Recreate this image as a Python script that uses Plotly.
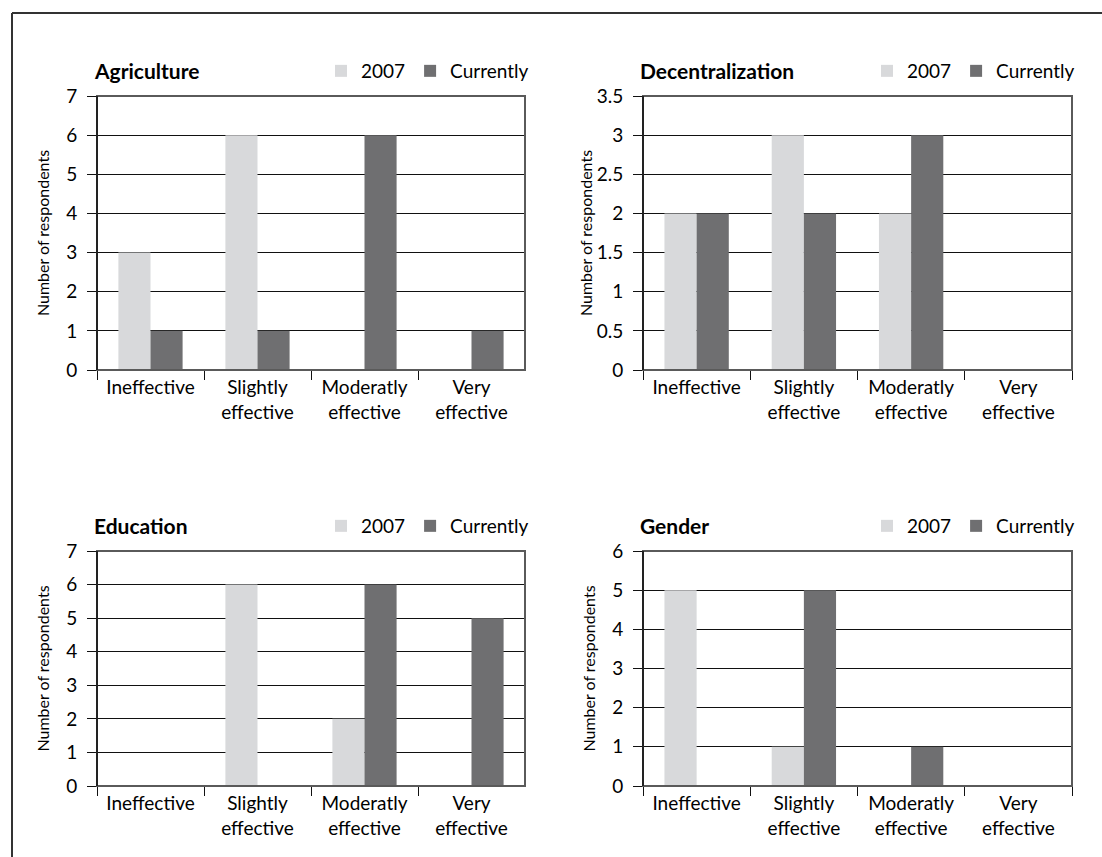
import plotly.graph_objects as go

# Survey categories and responses per policy area
categories = ["Ineffective", "Slightly<br>effective", "Moderatly<br>effective", "Very<br>effective"]
series_names = ["2007", "Currently"]

agriculture_2007 = [3, 6, 0, 0]
agriculture_now = [1, 1, 6, 1]
decentralization_2007 = [2, 3, 2, 0]
decentralization_now = [2, 2, 3, 0]
education_2007 = [0, 6, 2, 0]
education_now = [0, 0, 6, 5]
gender_2007 = [5, 1, 0, 0]
gender_now = [0, 5, 1, 0]

panel_titles = ["Agriculture", "Decentralization", "Education", "Gender"]
y_ranges = [(0, 7, 1), (0, 3.5, 0.5), (0, 7, 1), (0, 6, 1)]
title_standoffs = [12, 0, 12, 12]

COLOR_2007 = "#d8d9db"
COLOR_NOW = "#6f6f71"
FONT = "Lato"

W, H = 1102, 857


def px_x(v):
    return v / W


def px_y(v):
    return 1 - v / H


# plot-area pixel boxes: (left, right, top, bottom)
boxes = [
    (97, 525, 96, 370),
    (643, 1072, 96, 370),
    (97, 525, 551, 786),
    (643, 1072, 551, 786),
]

panel_data = [
    (agriculture_2007, agriculture_now),
    (decentralization_2007, decentralization_now),
    (education_2007, education_now),
    (gender_2007, gender_now),
]

fig = go.Figure()
layout = dict()
annotations = []
shapes = [
    # outer frame (top and left edges)
    dict(type="line", xref="paper", yref="paper", x0=px_x(12), x1=1, y0=px_y(13), y1=px_y(13),
         line=dict(color="#333333", width=2)),
    dict(type="line", xref="paper", yref="paper", x0=px_x(12), x1=px_x(12), y0=px_y(13), y1=0,
         line=dict(color="#333333", width=2)),
]

for i, ((left, right, top, bottom), (v07, vnow), title, (ymin, ymax, dt), sto) in enumerate(
        zip(boxes, panel_data, panel_titles, y_ranges, title_standoffs)):
    n = i + 1
    xa = "x" if n == 1 else f"x{n}"
    ya = "y" if n == 1 else f"y{n}"
    lg = "legend" if n == 1 else f"legend{n}"
    fig.add_trace(go.Bar(x=categories, y=v07, name=series_names[0], marker_color=COLOR_2007,
                         marker_line_width=0, xaxis=xa, yaxis=ya, legend=lg, showlegend=True))
    fig.add_trace(go.Bar(x=categories, y=vnow, name=series_names[1], marker_color=COLOR_NOW,
                         marker_line_width=0, xaxis=xa, yaxis=ya, legend=lg, showlegend=True))

    xkey = "xaxis" if n == 1 else f"xaxis{n}"
    ykey = "yaxis" if n == 1 else f"yaxis{n}"
    layout[xkey] = dict(
        domain=[px_x(left), px_x(right)], anchor=ya,
        type="category", categoryorder="array", categoryarray=categories,
        showline=True, linecolor="#111111", linewidth=1, mirror=False,
        ticks="outside", tickson="boundaries", ticklen=9, tickcolor="#111111", tickwidth=1,
        showgrid=False, zeroline=False,
        tickfont=dict(family=FONT, size=19, color="black"),
    )
    layout[ykey] = dict(
        domain=[px_y(bottom), px_y(top)], anchor=xa,
        range=[ymin, ymax], dtick=dt, tick0=0,
        showline=True, linecolor="#111111", linewidth=1, mirror=False,
        ticks="outside", ticklen=9, tickcolor="#111111", tickwidth=1,
        ticklabelstandoff=6,
        showgrid=True, gridcolor="#111111", gridwidth=1, zeroline=False,
        tickfont=dict(family=FONT, size=19, color="black"),
        title=dict(text="Number of respondents", font=dict(family=FONT, size=16, color="black"),
                   standoff=sto),
    )
    # grey plot-area border
    shapes.append(dict(type="rect", xref=f"{xa} domain", yref=f"{ya} domain",
                       x0=0, x1=1, y0=0, y1=1, layer="above",
                       line=dict(color="#5a5a5a", width=2)))
    # left axis drawn over the border in black
    shapes.append(dict(type="line", xref=f"{xa} domain", yref=f"{ya} domain",
                       x0=0, x1=0, y0=0, y1=1, layer="above",
                       line=dict(color="#111111", width=1.5)))
    # panel heading
    annotations.append(dict(
        text=f"<b>{title}</b>", x=px_x(left - 5), y=px_y(top - 26),
        xref="paper", yref="paper", xanchor="left", yanchor="middle",
        showarrow=False, font=dict(family=FONT, size=21, color="black"),
    ))
    layout[lg] = dict(
        orientation="h", x=px_x(left + 224), y=px_y(top - 25),
        xanchor="left", yanchor="middle", bgcolor="rgba(0,0,0,0)",
        font=dict(family=FONT, size=19, color="black"),
        itemwidth=30, tracegroupgap=0, traceorder="normal",
    )

fig.update_layout(
    width=W, height=H,
    margin=dict(l=0, r=0, t=0, b=0, autoexpand=False),
    paper_bgcolor="white", plot_bgcolor="white",
    barmode="group", bargap=0.4, bargroupgap=0,
    font=dict(family=FONT, color="black"),
    annotations=annotations,
    shapes=shapes,
    **layout,
)

fig.write_html("out.html")
